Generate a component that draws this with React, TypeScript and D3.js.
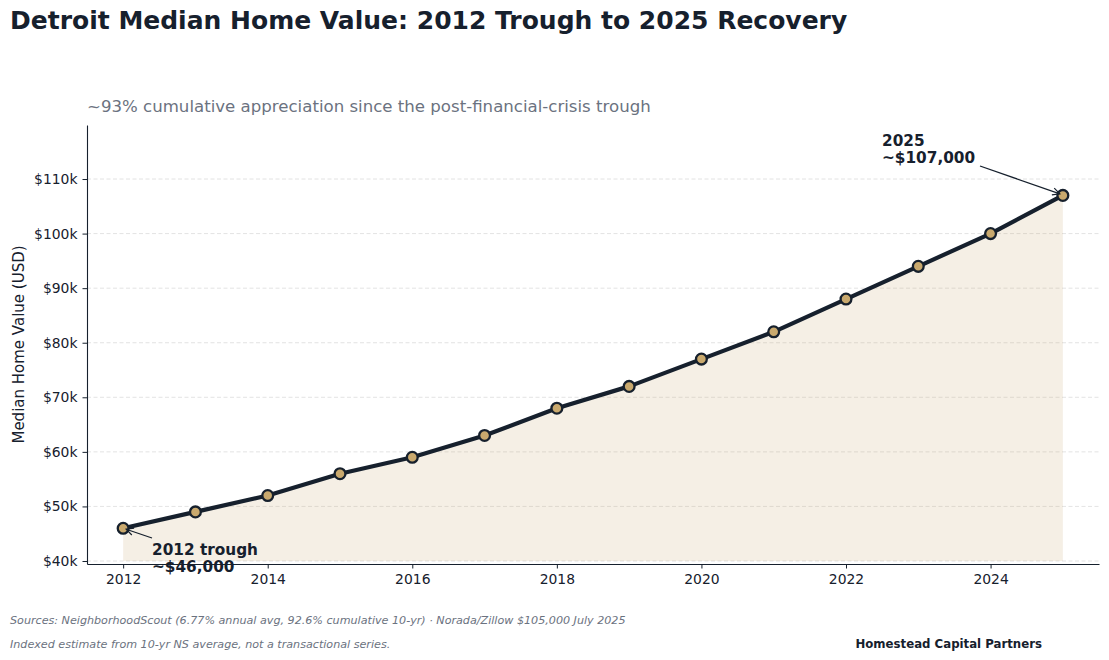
import { useRef, useEffect } from 'react';
import * as d3 from 'd3';

const years = [2012, 2013, 2014, 2015, 2016, 2017, 2018, 2019, 2020, 2021, 2022, 2023, 2024, 2025];
const homeValues = [46000, 49000, 52000, 56000, 59000, 63000, 68000, 72000, 77000, 82000, 88000, 94000, 100000, 107000];
const yTicks = [40000, 50000, 60000, 70000, 80000, 90000, 100000, 110000];
const xTicks = [2012, 2014, 2016, 2018, 2020, 2022, 2024];

const INK = '#16202d';
const FONT = '"DejaVu Sans", sans-serif';

function App() {
  const svgRef = useRef<SVGSVGElement | null>(null);
  const width = 1109;
  const height = 660;

  useEffect(() => {
    document.body.style.margin = '0';
    const svg = d3.select(svgRef.current);
    svg.selectAll('*').remove();
    svg.style('font-family', FONT);

    const margin = { top: 125, right: 10, bottom: 96, left: 87 };
    const data = years.map((y, i) => ({ year: y, value: homeValues[i] }));

    const x = d3
      .scaleLinear()
      .domain([2011.5, 2025.5])
      .range([margin.left, width - margin.right]);

    const y = d3
      .scaleLinear()
      .domain([39450, 119900])
      .range([height - margin.bottom, margin.top]);

    // arrow head
    svg
      .append('defs')
      .append('marker')
      .attr('id', 'arr')
      .attr('viewBox', '0 0 10 10')
      .attr('refX', 9)
      .attr('refY', 5)
      .attr('markerWidth', 9)
      .attr('markerHeight', 9)
      .attr('markerUnits', 'userSpaceOnUse')
      .attr('orient', 'auto')
      .append('path')
      .attr('d', 'M1,1 L9,5 L1,9')
      .attr('fill', 'none')
      .attr('stroke', INK)
      .attr('stroke-width', 1.3);

    // grid
    svg
      .append('g')
      .selectAll('line')
      .data(yTicks)
      .join('line')
      .attr('x1', margin.left)
      .attr('x2', width - margin.right)
      .attr('y1', (d) => y(d))
      .attr('y2', (d) => y(d))
      .attr('stroke', '#dcdcdc')
      .attr('stroke-width', 0.8)
      .attr('stroke-dasharray', '4,2.5');

    // area under the line
    const area = d3
      .area<{ year: number; value: number }>()
      .x((d) => x(d.year))
      .y0(y(40000))
      .y1((d) => y(d.value));

    svg
      .append('path')
      .datum(data)
      .attr('fill', '#c9a96e')
      .attr('fill-opacity', 0.18)
      .attr('d', area);

    const line = d3
      .line<{ year: number; value: number }>()
      .x((d) => x(d.year))
      .y((d) => y(d.value));

    svg
      .append('path')
      .datum(data)
      .attr('fill', 'none')
      .attr('stroke', INK)
      .attr('stroke-width', 4.2)
      .attr('stroke-linejoin', 'round')
      .attr('d', line);

    svg
      .append('g')
      .selectAll('circle')
      .data(data)
      .join('circle')
      .attr('cx', (d) => x(d.year))
      .attr('cy', (d) => y(d.value))
      .attr('r', 5.4)
      .attr('fill', '#c9a96e')
      .attr('stroke', INK)
      .attr('stroke-width', 2.3);

    // axes
    const xAxis = svg
      .append('g')
      .attr('transform', `translate(0,${height - margin.bottom})`)
      .call(
        d3
          .axisBottom(x)
          .tickValues(xTicks)
          .tickFormat((d) => String(d))
          .tickSize(4.5)
          .tickPadding(6)
          .tickSizeOuter(0)
      );
    xAxis.select('.domain').attr('stroke', INK).attr('stroke-width', 1.1);
    xAxis.selectAll('.tick line').attr('stroke', INK);
    xAxis.selectAll('.tick text').attr('fill', INK).style('font-size', '13.9px').style('font-family', FONT);

    const yAxis = svg
      .append('g')
      .attr('transform', `translate(${margin.left},0)`)
      .call(
        d3
          .axisLeft(y)
          .tickValues(yTicks)
          .tickFormat((d) => `$${Math.round(+d / 1000)}k`)
          .tickSize(4.5)
          .tickPadding(5)
          .tickSizeOuter(0)
      );
    yAxis.select('.domain').attr('stroke', INK).attr('stroke-width', 1.1);
    yAxis.selectAll('.tick line').attr('stroke', INK);
    yAxis.selectAll('.tick text').attr('fill', INK).style('font-size', '13.9px').style('font-family', FONT);

    svg
      .append('text')
      .attr('transform', `translate(24,${(margin.top + height - margin.bottom) / 2}) rotate(-90)`)
      .attr('text-anchor', 'middle')
      .attr('fill', INK)
      .style('font-size', '15px')
      .text('Median Home Value (USD)');

    // titles
    svg
      .append('text')
      .attr('x', 10)
      .attr('y', 29)
      .attr('fill', INK)
      .style('font-size', '25px')
      .style('font-weight', 700)
      .text('Detroit Median Home Value: 2012 Trough to 2025 Recovery');

    svg
      .append('text')
      .attr('x', margin.left)
      .attr('y', 112)
      .attr('fill', '#6b7280')
      .style('font-size', '16.6px')
      .text('~93% cumulative appreciation since the post-financial-crisis trough');

    // annotations
    const first = data[0];
    const last = data[data.length - 1];

    const a1 = svg
      .append('text')
      .attr('x', 152)
      .attr('y', 555)
      .attr('fill', INK)
      .style('font-size', '15.3px')
      .style('font-weight', 700);
    a1.append('tspan').attr('x', 152).text('2012 trough');
    a1.append('tspan').attr('x', 152).attr('dy', 17).text('~$46,000');

    svg
      .append('line')
      .attr('x1', 152)
      .attr('y1', 538)
      .attr('x2', x(first.year) + 3)
      .attr('y2', y(first.value) + 1)
      .attr('stroke', INK)
      .attr('stroke-width', 1.3)
      .attr('marker-end', 'url(#arr)');

    const a2 = svg
      .append('text')
      .attr('x', 882)
      .attr('y', 146)
      .attr('fill', INK)
      .style('font-size', '15.3px')
      .style('font-weight', 700);
    a2.append('tspan').attr('x', 882).text('2025');
    a2.append('tspan').attr('x', 882).attr('dy', 17).text('~$107,000');

    svg
      .append('line')
      .attr('x1', 980)
      .attr('y1', 166)
      .attr('x2', x(last.year) - 3)
      .attr('y2', y(last.value) - 1.5)
      .attr('stroke', INK)
      .attr('stroke-width', 1.3)
      .attr('marker-end', 'url(#arr)');

    // footer
    svg
      .append('text')
      .attr('x', 10)
      .attr('y', 624)
      .attr('fill', '#6b7280')
      .style('font-size', '11.15px')
      .style('font-style', 'italic')
      .text('Sources: NeighborhoodScout (6.77% annual avg, 92.6% cumulative 10-yr) · Norada/Zillow $105,000 July 2025');

    svg
      .append('text')
      .attr('x', 10)
      .attr('y', 648)
      .attr('fill', '#6b7280')
      .style('font-size', '11.15px')
      .style('font-style', 'italic')
      .text('Indexed estimate from 10-yr NS average, not a transactional series.');

    svg
      .append('text')
      .attr('x', 1042)
      .attr('y', 648)
      .attr('text-anchor', 'end')
      .attr('fill', INK)
      .style('font-size', '11.75px')
      .style('font-weight', 700)
      .text('Homestead Capital Partners');
  }, []);

  return <svg ref={svgRef} width={width} height={height} style={{ display: 'block' }}></svg>;
}

export default App;
